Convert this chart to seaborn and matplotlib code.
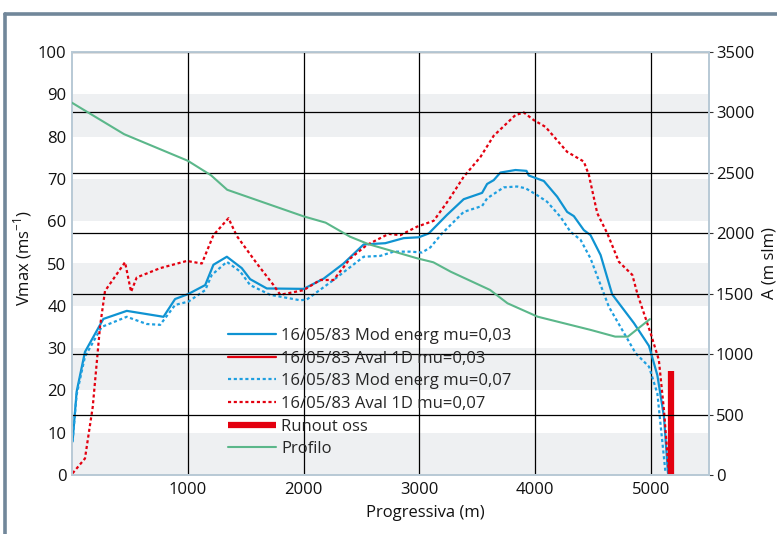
import matplotlib
matplotlib.use("Agg")
import matplotlib.pyplot as plt
import seaborn as sns
import pandas as pd
from matplotlib.lines import Line2D

# ---------------- data ----------------
mod03_x = [5, 40, 112, 271, 473, 790, 890, 1005, 1150, 1221, 1337, 1466, 1538, 1682, 2000,
           2172, 2345, 2518, 2705, 2864, 2994, 3080, 3238, 3382, 3541, 3584, 3641, 3699, 3829,
           3924, 3944, 4074, 4189, 4275, 4333, 4419, 4477, 4564, 4664, 4852, 4982, 5054, 5111, 5146]
mod03_v = [7.9, 19.7, 29.1, 36.9, 38.8, 37.4, 41.6, 42.8, 44.9, 49.7, 51.6, 48.9, 46.3, 44.1, 44.0,
           46.4, 50.0, 54.5, 54.8, 56.0, 56.2, 57.1, 61.5, 65.2, 66.7, 68.8, 69.7, 71.5, 72.1,
           71.9, 70.8, 69.5, 65.8, 62.2, 61.2, 57.9, 56.7, 52.0, 42.7, 35.9, 30.5, 23.6, 13.8, 0.4]

mod07_x = [5, 40, 112, 256, 473, 645, 761, 890, 1005, 1150, 1207, 1337, 1452, 1538, 1711, 1971,
           2028, 2258, 2518, 2662, 2777, 2921, 3022, 3094, 3195, 3382, 3541, 3584, 3728, 3843,
           3915, 4002, 4102, 4218, 4304, 4391, 4477, 4635, 4866, 4982, 5054, 5125]
mod07_v = [8.0, 19.0, 28.0, 35.0, 37.4, 35.7, 35.5, 40.2, 41.0, 43.7, 47.3, 50.4, 48.1, 44.9, 42.6, 41.3,
           41.5, 46.1, 51.6, 51.8, 52.8, 52.8, 52.6, 53.8, 57.1, 62.2, 63.6, 65.4, 68.0, 68.2,
           67.8, 66.4, 64.6, 61.0, 57.5, 55.6, 51.2, 39.8, 28.8, 25.6, 19.3, 0.4]

aval07_x = [5, 112, 179, 242, 285, 458, 510, 559, 761, 991, 1121, 1221, 1351, 1423, 1596,
            1740, 1798, 2000, 2143, 2258, 2403, 2547, 2734, 2835, 2979, 3123, 3252, 3382, 3527,
            3641, 3829, 3901, 3987, 4088, 4275, 4419, 4463, 4535, 4622, 4722, 4838, 4881, 4996,
            5067, 5111, 5154]
aval07_v = [0.4, 3.9, 16.1, 35.1, 43.5, 50.3, 43.3, 46.7, 48.9, 50.6, 50.0, 56.7, 60.7, 56.5, 50.0,
            44.9, 42.6, 43.7, 46.1, 46.1, 51.2, 54.4, 57.0, 56.7, 58.7, 60.1, 65.0, 70.5, 75.2,
            80.2, 85.1, 85.7, 83.9, 82.3, 76.4, 74.1, 70.9, 61.9, 57.1, 50.4, 47.3, 42.9, 33.5,
            27.2, 15.4, 0.4]

runout_x = [5170, 5170]
runout_v = [0, 24.5]

profilo_x = [0, 450, 1000, 1200, 1340, 2000, 2190, 2400, 2560, 2980, 3120, 3270, 3610, 3760,
             4020, 4480, 4690, 4800, 4990]
profilo_a = [3080, 2820, 2600, 2480, 2360, 2140, 2088, 1972, 1910, 1793, 1760, 1682, 1531, 1421,
             1310, 1200, 1145, 1145, 1290]

labels = ["16/05/83 Mod energ mu=0,03", "16/05/83 Aval 1D mu=0,03",
          "16/05/83 Mod energ mu=0,07", "16/05/83 Aval 1D mu=0,07",
          "Runout oss", "Profilo"]
x_ticks = [1000, 2000, 3000, 4000, 5000]
left_ticks = [0, 10, 20, 30, 40, 50, 60, 70, 80, 90, 100]
right_ticks = [0, 500, 1000, 1500, 2000, 2500, 3000, 3500]

# ---------------- style ----------------
sns.set_theme(style="white")
plt.rcParams['font.family'] = ['Open Sans', 'DejaVu Sans']
plt.rcParams['mathtext.fontset'] = 'custom'
plt.rcParams['mathtext.rm'] = 'Open Sans'

BLUE = "#0f93d2"
BLUE2 = "#1e9fe0"
RED = "#e3000f"
GREEN = "#5bb78a"
BAND = "#eef0f2"
SPINE = "#b9cad6"
TXT = "#111111"
FS = 12
DOT = (0, (1.4, 1.2))

fig = plt.figure(figsize=(7.77, 5.34), dpi=100)
ax = fig.add_axes([72 / 777, 59 / 534, 637 / 777, 423 / 534])

# bands
for lo in [0, 20, 40, 60, 80]:
    ax.axhspan(lo, lo + 10, color=BAND, lw=0, zorder=0.5)

# lines on left axis
df_m3 = pd.DataFrame({"x": mod03_x, "v": mod03_v})
df_m7 = pd.DataFrame({"x": mod07_x, "v": mod07_v})
df_a7 = pd.DataFrame({"x": aval07_x, "v": aval07_v})
df_ro = pd.DataFrame({"x": runout_x, "v": runout_v})

sns.lineplot(data=df_m3, x="x", y="v", ax=ax, color=BLUE, lw=1.6, estimator=None, sort=False, zorder=3)
sns.lineplot(data=df_m7, x="x", y="v", ax=ax, color=BLUE2, lw=1.6, linestyle=DOT,
             estimator=None, sort=False, zorder=3)
sns.lineplot(data=df_a7, x="x", y="v", ax=ax, color=RED, lw=1.6, linestyle=DOT,
             estimator=None, sort=False, zorder=3)
sns.lineplot(data=df_ro, x="x", y="v", ax=ax, color=RED, lw=4.5, estimator=None, sort=False,
             solid_capstyle="butt", zorder=3)

ax.set_xlim(0, 5500)
ax.set_ylim(0, 100)
ax.set_xticks(x_ticks)
ax.set_xticklabels([str(t) for t in x_ticks])
ax.set_yticks(left_ticks)
ax.set_yticklabels([str(t) for t in left_ticks])
ax.grid(axis="x", color="black", lw=0.9)
ax.grid(axis="y", visible=False)
ax.tick_params(axis="both", length=0, labelsize=FS, colors=TXT)
ax.tick_params(axis="x", pad=5)
ax.tick_params(axis="y", pad=4)
ax.set_xlabel("Progressiva (m)", fontsize=FS, labelpad=5, color=TXT, x=(425 - 72) / 637)
ax.set_ylabel(r"Vmax (ms$^{-1}$)", fontsize=FS, labelpad=3, color=TXT, y=(475 - 258) / 423)

# right axis
ax2 = ax.twinx()
df_p = pd.DataFrame({"x": profilo_x, "a": profilo_a})
sns.lineplot(data=df_p, x="x", y="a", ax=ax2, color=GREEN, lw=1.5, estimator=None, sort=False, zorder=3)
ax2.set_ylim(0, 3500)
ax2.set_yticks(right_ticks)
ax2.set_yticklabels([str(t) for t in right_ticks])
ax2.grid(axis="y", color="black", lw=0.9)
ax2.grid(axis="x", visible=False)
ax2.tick_params(axis="y", length=3, width=0.8, color="#333333", labelsize=FS, pad=2, labelcolor=TXT)
ax2.set_ylabel("A (m slm)", fontsize=FS, color=TXT)
ax2.yaxis.set_label_coords((762 - 72) / 637, 0.5)

for a in (ax, ax2):
    for s in a.spines.values():
        s.set_color(SPINE)
        s.set_linewidth(1.4)

# legend
handles = [
    Line2D([], [], color=BLUE, lw=1.6),
    Line2D([], [], color=RED, lw=1.6),
    Line2D([], [], color=BLUE2, lw=1.6, linestyle=DOT),
    Line2D([], [], color=RED, lw=1.6, linestyle=DOT),
    Line2D([], [], color=RED, lw=4.5, solid_capstyle="butt"),
    Line2D([], [], color=GREEN, lw=1.5),
]
ax2.legend(handles, labels, loc="upper left", bbox_to_anchor=((228 - 72) / 637, (475 - 328) / 423),
           frameon=False, fontsize=FS, handlelength=2.9, handletextpad=0.3, labelspacing=0.4,
           borderpad=0, borderaxespad=0)

# figure frame
FRAME = "#71879a"
fig.add_artist(Line2D([5 / 777, 1.0], [1 - 14 / 534, 1 - 14 / 534], transform=fig.transFigure,
                      color=FRAME, lw=2.6))
fig.add_artist(Line2D([5 / 777, 5 / 777], [0, 1 - 14 / 534], transform=fig.transFigure,
                      color=FRAME, lw=2.6))

fig.savefig("out.png", dpi=100)
